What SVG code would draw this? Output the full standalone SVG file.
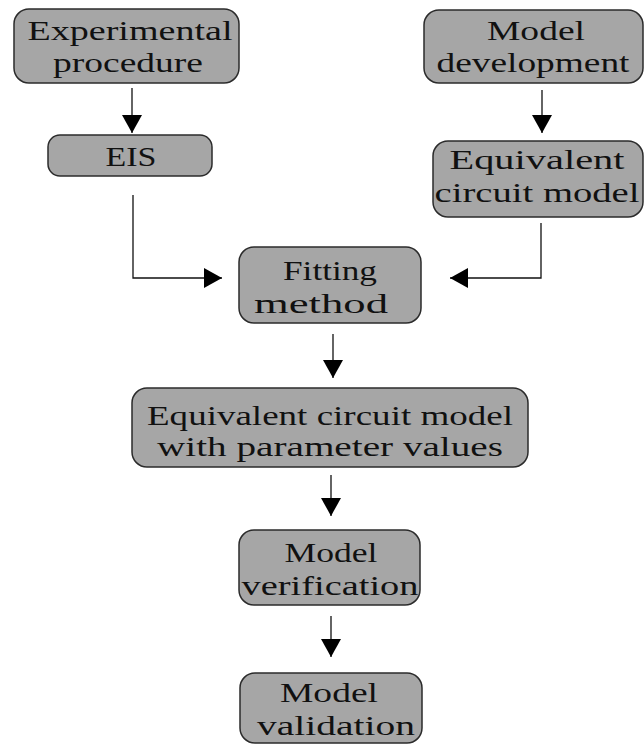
<svg xmlns="http://www.w3.org/2000/svg" width="644" height="745" viewBox="0 0 644 745">
<style>
.box{fill:#a6a6a6;stroke:#2b2b2b;stroke-width:1.5}
.t{font-family:"Liberation Serif","Times New Roman",serif;font-size:27px;fill:#111;text-anchor:middle}
.c{fill:none;stroke:#111;stroke-width:1.3}
</style>
<defs>
<marker id="ah" markerUnits="userSpaceOnUse" markerWidth="22" markerHeight="22" refX="18" refY="10" orient="auto">
<path d="M0,0 L18,10 L0,20 Z" fill="#000"/>
</marker>
</defs>
<rect width="644" height="745" fill="#fff"/>
<g id="connectors">
<path class="c" d="M132,88 V133" marker-end="url(#ah)"/>
<path class="c" d="M133,195 V278 H222" marker-end="url(#ah)"/>
<path class="c" d="M542,90 V133" marker-end="url(#ah)"/>
<path class="c" d="M541,223 V278 H450" marker-end="url(#ah)"/>
<path class="c" d="M333,334 V378" marker-end="url(#ah)"/>
<path class="c" d="M331,475 V516" marker-end="url(#ah)"/>
<path class="c" d="M331,616 V657" marker-end="url(#ah)"/>
</g>
<g id="experimental">
<rect class="box" x="14" y="9" width="225" height="74" rx="15"/>
<text class="t" x="130" y="40" textLength="205" lengthAdjust="spacingAndGlyphs">Experimental</text>
<text class="t" x="128" y="72" textLength="150" lengthAdjust="spacingAndGlyphs">procedure</text>
</g>
<g id="eis">
<rect class="box" x="48" y="135" width="164" height="41" rx="12"/>
<text class="t" x="131" y="166" textLength="51" lengthAdjust="spacingAndGlyphs">EIS</text>
</g>
<g id="modeldev">
<rect class="box" x="424" y="10" width="219" height="73" rx="15"/>
<text class="t" x="536" y="40" textLength="98" lengthAdjust="spacingAndGlyphs">Model</text>
<text class="t" x="533" y="72" textLength="193" lengthAdjust="spacingAndGlyphs">development</text>
</g>
<g id="ecm">
<rect class="box" x="433" y="141" width="210" height="76" rx="15"/>
<text class="t" x="537" y="169" textLength="175" lengthAdjust="spacingAndGlyphs">Equivalent</text>
<text class="t" x="537" y="202" textLength="205" lengthAdjust="spacingAndGlyphs">circuit model</text>
</g>
<g id="fitting">
<rect class="box" x="239" y="247" width="182" height="76" rx="15"/>
<text class="t" x="330" y="280" textLength="94" lengthAdjust="spacingAndGlyphs">Fitting</text>
<text class="t" x="321" y="313" textLength="134" lengthAdjust="spacingAndGlyphs">method</text>
</g>
<g id="ecmparams">
<rect class="box" x="132" y="388" width="396" height="79" rx="15"/>
<text class="t" x="330" y="425" textLength="366" lengthAdjust="spacingAndGlyphs">Equivalent circuit model</text>
<text class="t" x="330" y="456" textLength="346" lengthAdjust="spacingAndGlyphs">with parameter values</text>
</g>
<g id="verification">
<rect class="box" x="239" y="530" width="181" height="75" rx="15"/>
<text class="t" x="331" y="562" textLength="93" lengthAdjust="spacingAndGlyphs">Model</text>
<text class="t" x="330" y="595" textLength="177" lengthAdjust="spacingAndGlyphs">verification</text>
</g>
<g id="validation">
<rect class="box" x="240" y="673" width="182" height="70" rx="15"/>
<text class="t" x="329" y="702" textLength="98" lengthAdjust="spacingAndGlyphs">Model</text>
<text class="t" x="336" y="735" textLength="158" lengthAdjust="spacingAndGlyphs">validation</text>
</g>
</svg>
